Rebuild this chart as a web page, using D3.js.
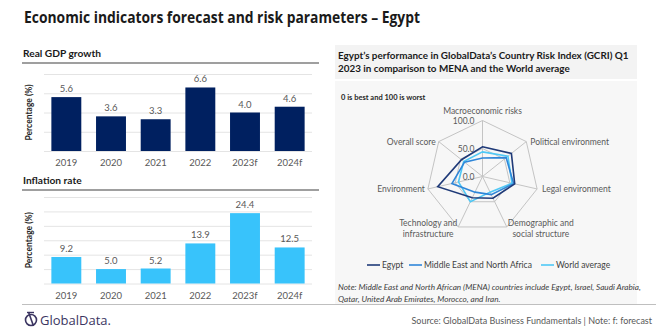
<!DOCTYPE html>
<html lang="en">
<head>
  <meta charset="UTF-8" />
  <title>Economic indicators forecast and risk parameters – Egypt</title>
  <script src="https://d3js.org/d3.v7.min.js"></script>
  <style>
    body {
      margin: 0;
      background: #fff;
      font-family: Lato, "Open Sans", sans-serif;
    }
    svg { display: block; }
    .grid line { stroke: #e4e4e4; stroke-width: 1; }
    .xlab { fill: #595959; font-size: 9.5px; }
    .vlab { fill: #595959; font-size: 9.5px; }
    .ylab { fill: #262626; font-size: 8.5px; font-weight: bold; }
    .radar-lab { fill: #595959; font-size: 8.5px; }
  </style>
</head>
<body>
  <svg width="660" height="330"></svg>

  <script>
    // chart data
    const years = ["2019", "2020", "2021", "2022", "2023f", "2024f"];
    const gdpGrowth = [5.6, 3.6, 3.3, 6.6, 4.0, 4.6];
    const inflation = [9.2, 5.0, 5.2, 13.9, 24.4, 12.5];
    const gdpTicks = [0, 2, 4, 6, 8];
    const inflationTicks = [0, 5, 10, 15, 20, 25, 30];

    const riskAxes = [
      ["Macroeconomic risks"],
      ["Political environment"],
      ["Legal environment"],
      ["Demographic and", "social structure"],
      ["Technology and", "infrastructure"],
      ["Environment"],
      ["Overall score"]
    ];
    const egyptScores = [53, 66, 59, 43, 42, 82, 48];
    const menaScores = [33, 54, 57, 36, 31, 56, 41];
    const worldScores = [44, 58, 54, 31, 50, 44, 43];
    const radarTicks = [0, 50, 100];
    const seriesNames = ["Egypt", "Middle East and North Africa", "World average"];

    const svg = d3.select("svg");

    // main title
    svg.append("text")
      .attr("x", 24).attr("y", 23)
      .attr("font-family", "'Open Sans', sans-serif")
      .attr("font-weight", "bold")
      .attr("font-size", 16.5)
      .attr("fill", "#1a1a1a")
      .attr("textLength", 396)
      .attr("lengthAdjust", "spacingAndGlyphs")
      .text("Economic indicators forecast and risk parameters \u2013 Egypt");

    // ---- bar panels ----
    function barPanel(title, values, ticks, color, top, bottom, titleY) {
      svg.append("text")
        .attr("x", 23).attr("y", titleY)
        .attr("font-weight", "bold")
        .attr("font-size", 10.2)
        .attr("fill", "#1a1a1a")
        .text(title);
      svg.append("line")
        .attr("x1", 22).attr("x2", 319)
        .attr("y1", titleY + 6).attr("y2", titleY + 6)
        .attr("stroke", "#404040").attr("stroke-width", 1.2);

      const x = d3.scaleBand().domain(years).range([44, 312]).paddingInner(0.33).paddingOuter(0.165);
      const y = d3.scaleLinear().domain([0, d3.max(ticks)]).range([bottom, top]);

      svg.append("g").attr("class", "grid")
        .selectAll("line").data(ticks).join("line")
        .attr("x1", 44).attr("x2", 312)
        .attr("y1", d => y(d) + 0.5).attr("y2", d => y(d) + 0.5);

      svg.append("g").selectAll("rect").data(values).join("rect")
        .attr("x", (d, i) => x(years[i]))
        .attr("width", x.bandwidth())
        .attr("y", d => y(d))
        .attr("height", d => y(0) - y(d))
        .attr("fill", color);

      svg.append("g").selectAll("text").data(values).join("text")
        .attr("class", "vlab")
        .attr("text-anchor", "middle")
        .attr("x", (d, i) => x(years[i]) + x.bandwidth() / 2)
        .attr("y", d => y(d) - 5)
        .text(d => d.toFixed(1));

      svg.append("g").selectAll("text").data(years).join("text")
        .attr("class", "xlab")
        .attr("text-anchor", "middle")
        .attr("x", d => x(d) + x.bandwidth() / 2)
        .attr("y", bottom + 15)
        .text(d => d);

      svg.append("text")
        .attr("class", "ylab")
        .attr("text-anchor", "middle")
        .attr("transform", `translate(32,${(top + bottom) / 2}) rotate(-90)`)
        .text("Percentage (%)");
    }

    barPanel("Real GDP growth", gdpGrowth, gdpTicks, "#002060", 74, 151, 57);
    barPanel("Inflation rate", inflation, inflationTicks, "#38c3fb", 197, 283.5, 184);

    // bottom rule
    svg.append("line")
      .attr("x1", 22).attr("x2", 656)
      .attr("y1", 304.5).attr("y2", 304.5)
      .attr("stroke", "#bfbfbf").attr("stroke-width", 1);

    // ---- right panel ----
    svg.append("rect").attr("x", 335).attr("y", 45).attr("width", 302).attr("height", 34).attr("fill", "#f3f3f3");
    svg.append("rect").attr("x", 335).attr("y", 81).attr("width", 302).attr("height", 223).attr("fill", "#f7f7f7");

    svg.append("g").selectAll("text")
      .data(["Egypt\u2019s performance in GlobalData\u2019s Country Risk Index (GCRI) Q1",
             "2023 in comparison to MENA and the World average"])
      .join("text")
      .attr("x", 338).attr("y", (d, i) => 59 + i * 13)
      .attr("font-weight", "bold").attr("font-size", 9.9).attr("fill", "#1a1a1a")
      .text(d => d);

    svg.append("text")
      .attr("x", 341).attr("y", 100)
      .attr("font-weight", "bold").attr("font-size", 7.5).attr("fill", "#262626")
      .text("0 is best and 100 is worst");

    const cx = 482.5, cy = 176.5, R = 56;
    const n = riskAxes.length;
    const ang = i => i * 2 * Math.PI / n;
    const r = d3.scaleLinear().domain([0, 100]).range([0, R]);
    const pt = (v, i) => [cx + r(v) * Math.sin(ang(i)), cy - r(v) * Math.cos(ang(i))];

    const radar = svg.append("g");
    radar.selectAll(".ring").data(radarTicks.filter(t => t > 0)).join("polygon")
      .attr("points", t => d3.range(n).map(i => pt(t, i).join(",")).join(" "))
      .attr("fill", "none").attr("stroke", "#c4c4c4").attr("stroke-width", 1);
    radar.selectAll(".spoke").data(d3.range(n)).join("line")
      .attr("x1", cx).attr("y1", cy)
      .attr("x2", i => pt(100, i)[0]).attr("y2", i => pt(100, i)[1])
      .attr("stroke", "#c4c4c4").attr("stroke-width", 1);

    radar.selectAll(".tick").data(radarTicks).join("text")
      .attr("class", "radar-lab")
      .attr("font-size", 9)
      .attr("text-anchor", "end")
      .attr("x", cx - 8)
      .attr("y", t => cy - r(t) + 3.5)
      .text(t => t.toFixed(1));

    // axis labels, placed just outside each vertex: [dx, dy of first baseline, anchor]
    const labelOffset = [[0, -7, "middle"], [4, 3, "start"], [5, 3, "start"], [34, -1, "middle"],
                         [-30, -1, "middle"], [-3, 3, "end"], [-3, 3, "end"]];
    riskAxes.forEach((lines, i) => {
      const [vx, vy] = pt(100, i);
      const [ox, oy, anchor] = labelOffset[i];
      const t = radar.append("text").attr("class", "radar-lab").attr("text-anchor", anchor);
      lines.forEach((s, j) => {
        t.append("tspan").attr("x", vx + ox).attr("y", vy + oy + j * 11.5).text(s);
      });
    });

    const seriesColors = ["#1f3a78", "#2f86d8", "#4fc8f5"];
    const seriesData = [egyptScores, menaScores, worldScores];
    const line = d3.line().curve(d3.curveLinearClosed);
    [2, 1, 0].forEach(k => {
      radar.append("path")
        .attr("d", line(seriesData[k].map((v, i) => pt(v, i))))
        .attr("fill", "none")
        .attr("stroke", seriesColors[k])
        .attr("stroke-width", 1.6);
    });

    // legend
    const legendX = [367, 409, 541];
    seriesNames.forEach((name, k) => {
      svg.append("line")
        .attr("x1", legendX[k]).attr("x2", legendX[k] + 13)
        .attr("y1", 265).attr("y2", 265)
        .attr("stroke", seriesColors[k]).attr("stroke-width", 1.6);
      svg.append("text")
        .attr("x", legendX[k] + 15).attr("y", 268)
        .attr("font-size", 8.5).attr("fill", "#404040")
        .text(name);
    });

    svg.append("g").selectAll("text")
      .data(["Note: Middle East and North African (MENA) countries include Egypt, Israel, Saudi Arabia,",
             "Qatar, United Arab Emirates, Morocco, and Iran."])
      .join("text")
      .attr("x", 338).attr("y", (d, i) => 290 + i * 11.5)
      .attr("font-style", "italic").attr("font-size", 8.2).attr("fill", "#404040")
      .text(d => d);

    // footer
    svg.append("text")
      .attr("x", 652).attr("y", 324)
      .attr("text-anchor", "end")
      .attr("font-size", 9).attr("fill", "#595959")
      .text("Source: GlobalData Business Fundamentals | Note: f: forecast");

    const logo = svg.append("g").attr("transform", "translate(31,320)");
    logo.append("circle").attr("r", 5.5).attr("fill", "none").attr("stroke", "#3b3561").attr("stroke-width", 1.6);
    logo.append("line").attr("x1", -2.5).attr("y1", -8).attr("x2", 2.5).attr("y2", 6).attr("stroke", "#3b3561").attr("stroke-width", 1.6);
    logo.append("line").attr("x1", -4).attr("y1", -7.5).attr("x2", 3).attr("y2", -7.5).attr("stroke", "#3b3561").attr("stroke-width", 1.4);
    svg.append("text")
      .attr("x", 40).attr("y", 325)
      .attr("font-family", "'Open Sans', sans-serif")
      .attr("font-size", 13).attr("fill", "#3b3561")
      .text("GlobalData.");
  </script>
</body>
</html>
